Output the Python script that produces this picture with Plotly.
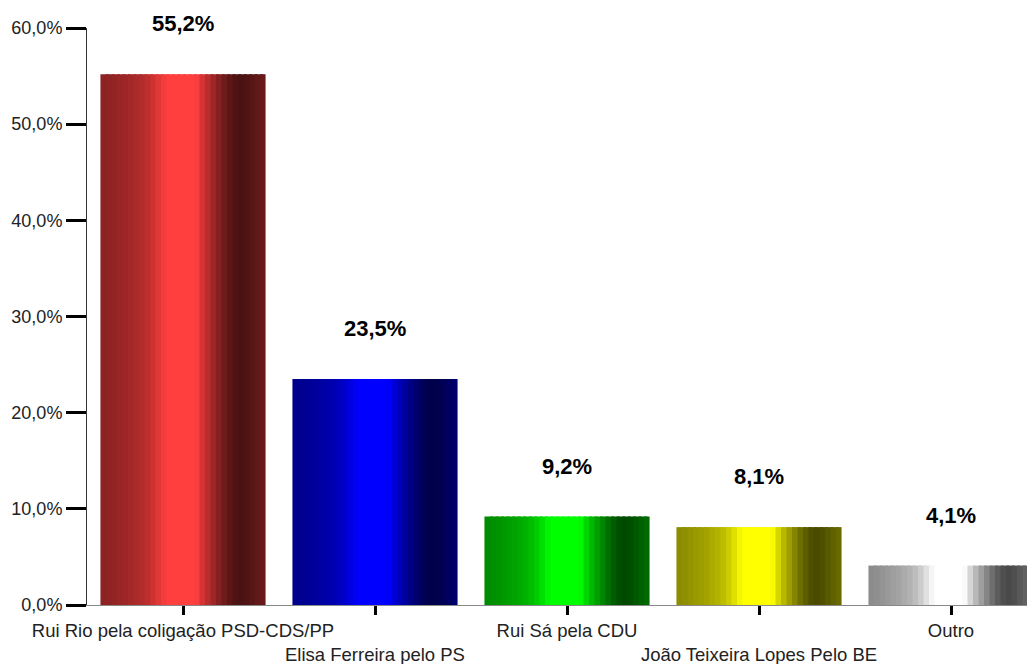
import plotly.graph_objects as go

# ---- data ----
categories = [
    "Rui Rio pela coligação PSD-CDS/PP",
    "Elisa Ferreira pelo PS",
    "Rui Sá pela CDU",
    "João Teixeira Lopes Pelo BE",
    "Outro",
]
values = [55.2, 23.5, 9.2, 8.1, 4.1]
y_tick_vals = [0, 10, 20, 30, 40, 50, 60]
y_tick_labels = ["0,0%", "10,0%", "20,0%", "30,0%", "40,0%", "50,0%", "60,0%"]

# ---- style ----
base_colors = [(255, 62, 62), (0, 0, 255), (0, 255, 0), (255, 255, 0), (255, 255, 255)]
# horizontal brightness profile of the bar gradient (left -> right)
profile = [0.55, 0.56, 0.58, 0.60, 0.62, 0.64, 0.67, 0.70, 0.74, 0.80, 0.88, 0.96,
           1.0, 1.0, 1.0, 1.0, 1.0, 0.98, 0.84, 0.72, 0.62, 0.52, 0.43, 0.36,
           0.31, 0.29, 0.31, 0.35, 0.38, 0.41]
N = len(profile)
bar_w = 0.86
stripe_w = bar_w / N
FONT = "Liberation Sans, Arial, sans-serif"

def shade(c, f):
    return "rgb(%d,%d,%d)" % tuple(max(0, min(255, round(v * f))) for v in c)

fig = go.Figure()
for k, f in enumerate(profile):
    w = stripe_w * (1.6 if k < N - 1 else 1.0)
    fig.add_trace(go.Bar(
        x=categories, y=values,
        width=[w] * len(categories),
        offset=[-bar_w / 2 + k * stripe_w] * len(categories),
        marker=dict(color=[shade(c, f) for c in base_colors], line=dict(width=0)),
        showlegend=False, hoverinfo="skip",
    ))

for cat, v in zip(categories, values):
    fig.add_annotation(
        x=cat, y=v, text="<b>%s%%</b>" % ("%.1f" % v).replace(".", ","),
        showarrow=False, yanchor="bottom", yshift=36,
        font=dict(size=22, color="black", family=FONT),
    )

tick_text = [("<br>" if i % 2 else "") + c for i, c in enumerate(categories)]

# page body adds an 8px offset, so the figure is sized/margined to compensate
fig.update_layout(
    width=1027, height=656,
    margin=dict(l=79, r=0, t=20, b=59, autoexpand=False),
    barmode="overlay",
    plot_bgcolor="white", paper_bgcolor="white",
    font=dict(family=FONT, size=18, color="#222"),
    xaxis=dict(
        range=[-0.5, 4.4375], tickvals=categories, ticktext=tick_text,
        tickangle=0, automargin=False,
        tickfont=dict(size=18.5, color="#222"),
        showline=True, linecolor="#888", linewidth=1,
        ticks="outside", ticklen=9, tickwidth=3, tickcolor="black",
        showgrid=False, zeroline=False, fixedrange=True,
    ),
    yaxis=dict(
        range=[0, 60], tickvals=y_tick_vals, ticktext=y_tick_labels,
        automargin=False,
        tickfont=dict(size=18, color="#222"),
        showline=True, linecolor="#333", linewidth=1,
        ticks="outside", ticklen=20, tickwidth=3, tickcolor="black",
        showgrid=False, zeroline=False, fixedrange=True,
    ),
)

fig.write_html("out.html")
